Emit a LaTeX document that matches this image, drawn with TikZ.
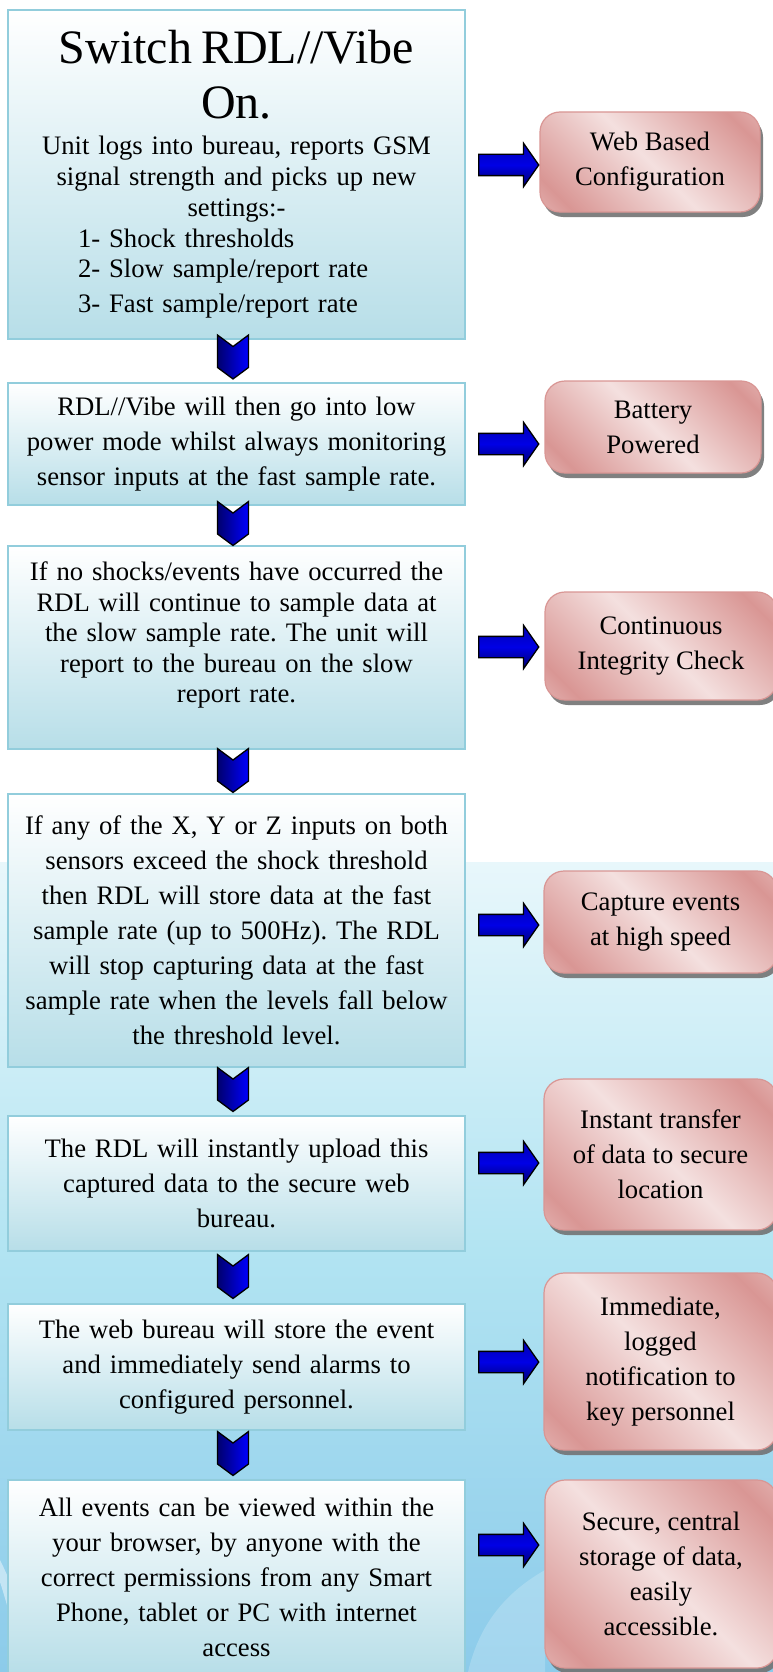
\documentclass[tikz,border=0pt]{standalone}
\usepackage{fontspec}
\setmainfont{Liberation Serif}
\usetikzlibrary{shapes.symbols,shapes.arrows,shadows}

\definecolor{aquaL}{RGB}{183,222,232}
\definecolor{aquaD}{RGB}{146,205,220}
\definecolor{roseD}{RGB}{217,150,148}
\definecolor{roseL}{RGB}{244,224,223}
\definecolor{navy}{RGB}{0,0,110}
\definecolor{skyA}{RGB}{232,247,251}
\definecolor{skyB}{RGB}{178,228,242}
\definecolor{skyC}{RGB}{140,203,234}
\pgfdeclarehorizontalshading{rosefill}{100bp}{color(0bp)=(roseL); color(22bp)=(roseD); color(50bp)=(roseL); color(78bp)=(roseD); color(100bp)=(roseL)}

\newcommand{\bodyfont}{\fontsize{26.67}{35}\selectfont}
\frenchspacing

\begin{document}
\begin{tikzpicture}[x=1pt, y=-1pt,
  stage/.style = {draw=aquaD, line width=2pt, top color=white, bottom color=aquaL, minimum width=457pt, text width=440pt, align=center, inner sep=0pt, font=\bodyfont},
  perk/.style = {draw=roseD, line width=1.2pt, rounded corners=20pt, shade, shading=rosefill, shading angle=45, align=center, inner sep=0pt, font=\bodyfont, drop shadow={shadow xshift=3pt, shadow yshift=-5pt, fill=black!55, opacity=0.9}},
  chev/.style = {signal, signal from=north, signal to=south, signal pointer angle=107, draw=black, line width=1.3pt, minimum width=31pt, minimum height=21pt, inner sep=0pt, left color=navy, right color=blue},
  push/.style = {single arrow, draw=black, line width=1.3pt, minimum height=60pt, inner xsep=0pt, inner ysep=10pt, single arrow head extend=11pt, single arrow tip angle=110, top color=blue!70!black, bottom color=navy, middle color=blue!90!black}]

\useasboundingbox (0,0) rectangle (773,1672);
\clip (0,0) rectangle (773,1672);
\fill[white] (0,0) rectangle (773,1672);
\fill[top color=skyA, bottom color=skyB] (0,862) rectangle (773,1250);
\fill[top color=skyB, bottom color=skyC] (0,1250) rectangle (773,1672);
\fill[white, opacity=0.45] (0,1560) .. controls (20,1600) and (30,1640) .. (40,1672) -- (24,1672) .. controls (14,1630) and (6,1600) .. (0,1582) -- cycle;
\fill[white, opacity=0.2] (468,1672) .. controls (480,1620) and (510,1590) .. (545,1570) -- (545,1672) -- cycle;

\node[stage, minimum height=329pt] (b1) at (236.5,174.5) {\fontsize{48}{55}\selectfont Switch RDL//Vibe\\On.\par
  \fontsize{26.67}{30.7}\selectfont\vspace{5.3pt}Unit logs into bureau, reports GSM\\signal strength and picks up new\\settings:-\\
  \makebox[317pt][l]{1- Shock thresholds}\\\makebox[317pt][l]{2- Slow sample/report rate}\\\makebox[317pt][l]{3- Fast sample/report rate}};
\node[stage, minimum height=122pt] (b2) at (236.5,444) {RDL//Vibe will then go into low\\power mode whilst always monitoring\\sensor inputs at the fast sample rate.};
\node[stage, minimum height=203pt, font=\fontsize{26.67}{30.5}\selectfont] (b3) at (236.5,647.5) {If no shocks/events have occurred the\\RDL will continue to sample data at\\the slow sample rate. The unit will\\report to the bureau on the slow\\report rate.\\\mbox{}};
\node[stage, minimum height=273pt] (b4) at (236.5,930.5) {If any of the X, Y or Z inputs on both\\sensors exceed the shock threshold\\then RDL will store data at the fast\\sample rate (up to 500Hz). The RDL\\will stop capturing data at the fast\\sample rate when the levels fall below\\the threshold level.};
\node[stage, minimum height=135pt] (b5) at (236.5,1183.5) {The RDL will instantly upload this\\captured data to the secure web\\bureau.};
\node[stage, minimum height=126pt] (b6) at (236.5,1367) {The web bureau will store the event\\and immediately send alarms to\\configured personnel.};
\node[stage, minimum height=195pt] (b7) at (236.5,1577.5) {All events can be viewed within the\\your browser, by anyone with the\\correct permissions from any Smart\\Phone, tablet or PC with internet\\access};

\node[chev] (d1) at (233,357) {};
\node[chev] (d2) at (233,523.5) {};
\node[chev] (d3) at (233,770.5) {};
\node[chev] (d4) at (233,1089.5) {};
\node[chev] (d5) at (233,1276.5) {};
\node[chev] (d6) at (233,1453.5) {};

\node[perk, minimum width=220pt, minimum height=100pt] (r1) at (650,162) {Web Based\\Configuration};
\node[perk, minimum width=216pt, minimum height=92pt] (r2) at (653,427) {Battery\\Powered};
\node[perk, minimum width=232pt, minimum height=108pt] (r3) at (661,646) {Continuous\\Integrity Check};
\node[perk, minimum width=233pt, minimum height=102pt] (r4) at (660.5,922) {Capture events\\at high speed};
\node[perk, minimum width=233pt, minimum height=151pt] (r5) at (660.5,1154.5) {Instant transfer\\of data to secure\\location};
\node[perk, minimum width=233pt, minimum height=177pt] (r6) at (660.5,1361.5) {Immediate,\\logged\\notification to\\key personnel};
\node[perk, minimum width=232pt, minimum height=188pt] (r7) at (661,1574) {Secure, central\\storage of data,\\easily\\accessible.};

\node[push] (a1) at (505,165) {};
\node[push] (a2) at (505,444) {};
\node[push] (a3) at (505,647) {};
\node[push] (a4) at (505,925) {};
\node[push] (a5) at (505,1163) {};
\node[push] (a6) at (505,1362) {};
\node[push] (a7) at (505,1545) {};
\end{tikzpicture}
\end{document}
